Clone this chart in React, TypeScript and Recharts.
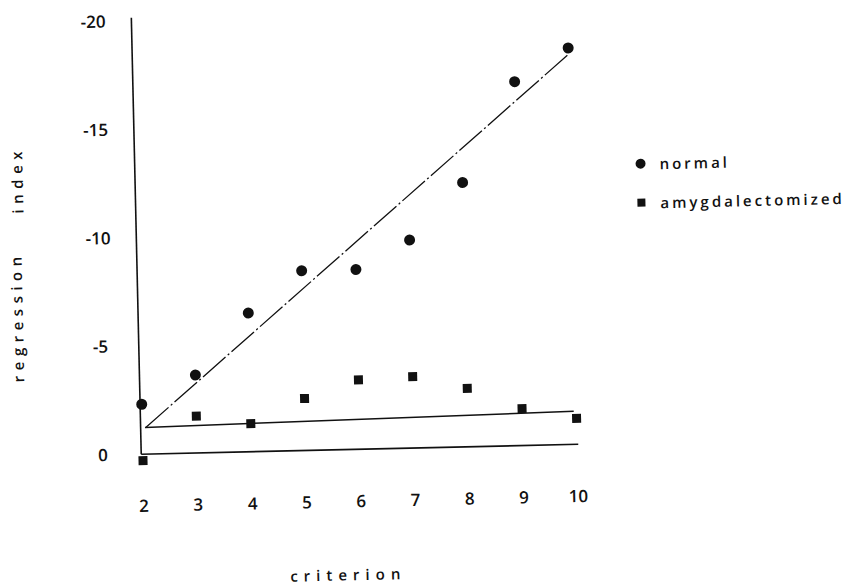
import { ScatterChart, Scatter, XAxis, YAxis, ReferenceLine, Legend, Label } from 'recharts';

const criterion = [2, 3, 4, 5, 6, 7, 8, 9, 10];
const normalIndex = [-2.3, -3.6, -6.4, -8.3, -8.3, -9.6, -12.2, -16.8, -18.3];
const amygIndex = [0.3, -1.7, -1.3, -2.4, -3.2, -3.3, -2.7, -1.7, -1.2];
const yTicks = [-20, -15, -10, -5, 0];
const seriesNames = ['normal', 'amygdalectomized'];

// fitted regression lines, end points
const normalFit = [{ x: 2.07, y: -1.24 }, { x: 10, y: -18 }];
const amygFit = [{ x: 2.05, y: -1.23 }, { x: 9.95, y: -1.53 }];
// the hand drawn axes
const yAxisLine = [{ x: 1.97, y: 0 }, { x: 1.97, y: -20.15 }];
const xAxisLine = [{ x: 1.97, y: 0 }, { x: 10.02, y: 0 }];

const normalData = criterion.map((c, i) => ({ x: c, y: normalIndex[i] }));
const amygData = criterion.map((c, i) => ({ x: c, y: amygIndex[i] }));

const font = '"Open Sans", sans-serif';
const ink = '#111';

const Dot = (props: any) => <circle cx={props.cx} cy={props.cy} r={5.5} fill={ink} />;
const Square = (props: any) => (
  <rect x={props.cx - 4.5} y={props.cy - 4.5} width={9} height={9} fill={ink} />
);

const YTick = ({ x, y, payload }: any) => (
  <text x={x - 21} y={y} dy={6} textAnchor="middle" fontSize={17} fontWeight={600} fontFamily={font} fill={ink}>
    {payload.value}
  </text>
);

const XTick = ({ x, y, payload }: any) => (
  <text x={x} y={y} dy={39} textAnchor="middle" fontSize={17} fontWeight={600} fontFamily={font} fill={ink}>
    {payload.value}
  </text>
);

const XTitle = ({ viewBox }: any) => (
  <text
    x={viewBox.x + viewBox.width / 2 - 20}
    y={viewBox.y + viewBox.height - 2}
    textAnchor="middle"
    fontSize={15}
    fontWeight={600}
    letterSpacing={6}
    fontFamily={font}
    fill={ink}
  >
    criterion
  </text>
);

const YTitle = ({ viewBox }: any) => {
  const a = { x: viewBox.x + 20, y: viewBox.y + 304 };
  const b = { x: viewBox.x + 23, y: viewBox.y + 167 };
  return (
    <g fontSize={15} fontWeight={600} fontFamily={font} fill={ink} letterSpacing={5.5}>
      <text x={a.x} y={a.y} textAnchor="middle" dominantBaseline="central" transform={`rotate(-90, ${a.x}, ${a.y})`}>
        regression
      </text>
      <text x={b.x} y={b.y} textAnchor="middle" dominantBaseline="central" transform={`rotate(-90, ${b.x}, ${b.y})`}>
        index
      </text>
    </g>
  );
};

const LegendContent = ({ payload }: any) => {
  const items = [...(payload || [])].sort(
    (a: any, b: any) => seriesNames.indexOf(a.value) - seriesNames.indexOf(b.value)
  );
  return (
    <div style={{ fontFamily: font, fontSize: 15, fontWeight: 600, letterSpacing: 3, color: ink }}>
      {items.map((entry: any) => (
        <div key={entry.value} style={{ display: 'flex', alignItems: 'center', height: 39 }}>
          <svg width={14} height={14}>
            {entry.value === seriesNames[0] ? (
              <circle cx={7} cy={7} r={5} fill={ink} />
            ) : (
              <rect x={3} y={3} width={8} height={8} fill={ink} />
            )}
          </svg>
          <span style={{ marginLeft: 12 }}>{entry.value}</span>
        </div>
      ))}
    </div>
  );
};

export default function App() {
  return (
    <div style={{ position: 'absolute', left: 0, top: 0, width: 848, height: 587, overflow: 'hidden', background: '#fff' }}>
      <div style={{ width: 848, height: 587, transform: 'rotate(-1.3deg)', transformOrigin: '143px 454px' }}>
        <ScatterChart width={848} height={587} margin={{ top: 10, right: 249, bottom: 0, left: 0 }}>
          <XAxis
            type="number"
            dataKey="x"
            domain={[1.8, 10.4]}
            ticks={criterion}
            axisLine={false}
            tickLine={false}
            height={122}
            tick={XTick}
          >
            <Label content={XTitle} />
          </XAxis>
          <YAxis
            type="number"
            dataKey="y"
            domain={[-20.5, 0.5]}
            ticks={yTicks}
            reversed
            axisLine={false}
            tickLine={false}
            width={132}
            tick={YTick}
          >
            <Label content={YTitle} />
          </YAxis>
          <ReferenceLine segment={yAxisLine} stroke={ink} strokeWidth={1.6} />
          <ReferenceLine segment={xAxisLine} stroke={ink} strokeWidth={1.6} />
          <ReferenceLine segment={amygFit} stroke={ink} strokeWidth={1.5} />
          <ReferenceLine segment={normalFit} stroke={ink} strokeWidth={1.3} strokeDasharray="30 3 2 3" />
          <Scatter name={seriesNames[0]} data={normalData} shape={Dot} isAnimationActive={false} />
          <Scatter name={seriesNames[1]} data={amygData} shape={Square} isAnimationActive={false} />
          <Legend
            layout="horizontal"
            align="center"
            verticalAlign="middle"
            content={LegendContent}
            wrapperStyle={{ top: 155, left: 640, width: 220 }}
          />
        </ScatterChart>
      </div>
    </div>
  );
}
